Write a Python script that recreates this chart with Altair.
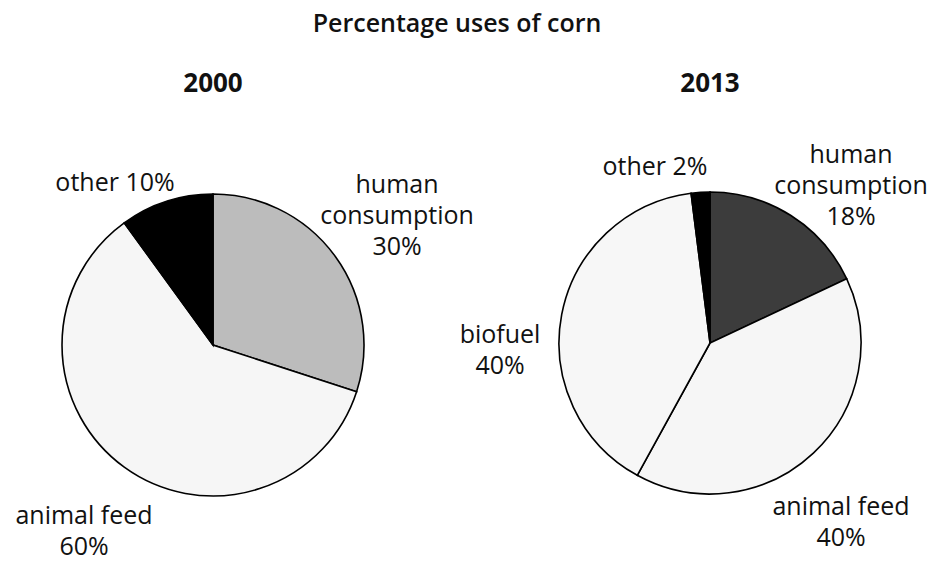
import altair as alt
import pandas as pd

# ---- data -------------------------------------------------------------
TITLE = "Percentage uses of corn"
YEARS = ["2000", "2013"]

CATEGORIES_2000 = ["human consumption", "animal feed", "other"]
VALUES_2000 = [30, 60, 10]

CATEGORIES_2013 = ["human consumption", "animal feed", "biofuel", "other"]
VALUES_2013 = [18, 40, 40, 2]

# ---- layout & style ---------------------------------------------------
FONT = "Open Sans"
RADIUS = 151
PIE_CENTER = {"2000": (213, 345), "2013": (710, 343)}
HEADER_Y = 84
TITLE_POS = (457, 24)

# how each slice label is broken into lines
LABEL_LINES = {
    "human consumption": "human\nconsumption\n{v}%",
    "animal feed": "animal feed\n{v}%",
    "biofuel": "biofuel\n{v}%",
    "other": "other {v}%",
}

# label anchor (centre of the first text line) per year / slice
LABEL_POS = {
    ("2000", "human consumption"): (397, 185),
    ("2000", "animal feed"): (84, 516),
    ("2000", "other"): (115, 183),
    ("2013", "human consumption"): (851, 155),
    ("2013", "animal feed"): (841, 507),
    ("2013", "biofuel"): (500, 335),
    ("2013", "other"): (655, 167),
}

FILLS = {
    "2000": {"human consumption": "#bcbcbc", "animal feed": "#f6f6f6", "other": "#000000"},
    "2013": {"human consumption": "#3c3c3c", "animal feed": "#f6f6f6",
             "biofuel": "#f7f7f7", "other": "#000000"},
}

# ---- table ------------------------------------------------------------
rows = []
for year, cats, vals in [("2000", CATEGORIES_2000, VALUES_2000),
                         ("2013", CATEGORIES_2013, VALUES_2013)]:
    for i, (c, v) in enumerate(zip(cats, vals)):
        lx, ly = LABEL_POS[(year, c)]
        rows.append({"year": year, "category": c, "value": v, "idx": i,
                     "label": LABEL_LINES[c].format(v=v), "lx": lx, "ly": ly})
df = pd.DataFrame(rows)


def pie(year, cats):
    cx, cy = PIE_CENTER[year]
    return (
        alt.Chart(df)
        .transform_filter(alt.datum.year == year)
        .mark_arc(radius=RADIUS, stroke="black", strokeWidth=1.6)
        .encode(
            theta=alt.Theta("value:Q", stack=True),
            order=alt.Order("idx:Q"),
            color=alt.Color(
                "category:N",
                scale=alt.Scale(domain=cats, range=[FILLS[year][c] for c in cats]),
                legend=None,
            ),
            x=alt.value(cx),
            y=alt.value(cy),
        )
    )


pie_2000 = pie("2000", CATEGORIES_2000)
pie_2013 = pie("2013", CATEGORIES_2013)

labels = (
    alt.Chart(df)
    .mark_text(font=FONT, fontSize=25, lineBreak="\n", lineHeight=31,
               align="center", baseline="middle", color="#111111")
    .encode(
        x=alt.X("lx:Q", scale=None, axis=None),
        y=alt.Y("ly:Q", scale=None, axis=None),
        text="label:N",
    )
)

headers_df = pd.DataFrame({"year": YEARS,
                           "hx": [PIE_CENTER[y][0] for y in YEARS]})
headers = (
    alt.Chart(headers_df)
    .mark_text(font=FONT, fontSize=26, fontWeight="bold",
               align="center", baseline="middle", color="#111111")
    .encode(
        x=alt.X("hx:Q", scale=None, axis=None),
        y=alt.value(HEADER_Y),
        text="year:N",
    )
)

title = (
    alt.Chart(pd.DataFrame({"t": [TITLE]}))
    .mark_text(font=FONT, fontSize=25, fontWeight=600,
               align="center", baseline="middle", color="#111111")
    .encode(text="t:N", x=alt.value(TITLE_POS[0]), y=alt.value(TITLE_POS[1]))
)

chart = (
    alt.layer(pie_2000, pie_2013, labels, headers, title)
    .resolve_scale(theta="independent", color="independent")
    .properties(width=932, height=561, padding=0,
                autosize=alt.AutoSizeParams(type="none"),
                background="white")
    .configure_view(stroke=None)
)

chart.save("out.html", embed_options={"renderer": "svg", "actions": False})
